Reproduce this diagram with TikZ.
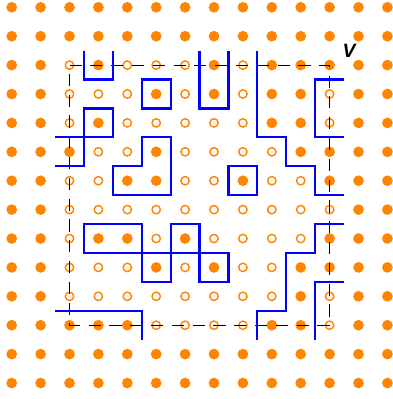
\documentclass[tikz,border=0pt]{standalone}
\usepackage{fontspec}
\setsansfont{Liberation Sans}
\definecolor{orng}{RGB}{255,133,0}
\definecolor{bl}{RGB}{0,0,255}
\tikzset{
  filldot/.style={circle, fill=orng, draw=none, inner sep=0pt, minimum size=0.37cm},
  opendot/.style={circle, draw=orng, line width=1.4pt, fill=none, inner sep=0pt, minimum size=0.29cm},
  boxline/.style={black, line width=1pt, dash pattern=on 0.42cm off 0.3cm},
  contour/.style={bl, line width=2.2pt},
  vlabel/.style={font=\sffamily\bfseries\itshape\fontsize{19}{22}\selectfont, inner sep=0pt}
}
\begin{document}
\begin{tikzpicture}[x=1cm,y=1cm]
\useasboundingbox (-0.405,0.253) rectangle (13.16,-13.553);
% open sites inside the box
\foreach \c/\r in {2/2,4/2,5/2,6/2,8/2,
  2/3,3/3,4/3,6/3,8/3,11/3,
  2/4,4/4,5/4,6/4,7/4,8/4,11/4,
  3/5,4/5,6/5,7/5,8/5,9/5,
  2/6,3/6,6/6,7/6,9/6,10/6,
  2/7,3/7,4/7,5/7,6/7,7/7,8/7,9/7,10/7,11/7,
  2/8,5/8,7/8,8/8,9/8,10/8,
  2/9,3/9,4/9,6/9,8/9,9/9,
  2/10,3/10,4/10,5/10,6/10,7/10,8/10,9/10,11/10,
  5/11,6/11,7/11,8/11,11/11}
  {\expandafter\gdef\csname op\c-\r\endcsname{}}
\foreach \r in {0,...,13}{
  \foreach \c in {0,...,13}{
    \ifcsname op\c-\r\endcsname
      \node[opendot] (d\c-\r) at (\c,-\r) {};
    \else
      \node[filldot] (d\c-\r) at (\c,-\r) {};
    \fi
  }
}
% dashed box
\draw[boxline] (d2-2.center) -- (d11-2.center) -- (d11-11.center) -- (d2-11.center) -- cycle;
% contours
\draw[contour] (2.5,-1.5) -- (2.5,-2.5) -- (3.5,-2.5) -- (3.5,-1.5);
\draw[contour] (4.5,-2.5) rectangle (5.5,-3.5);
\draw[contour] (1.5,-4.5) -- (3.5,-4.5) -- (3.5,-3.5) -- (2.5,-3.5) -- (2.5,-5.5) -- (1.5,-5.5);
\draw[contour] (3.5,-5.5) -- (4.5,-5.5) -- (4.5,-4.5) -- (5.5,-4.5) -- (5.5,-6.5) -- (3.5,-6.5) -- cycle;
\draw[contour] (6.5,-1.5) -- (6.5,-3.5) -- (7.5,-3.5) -- (7.5,-1.5);
\draw[contour] (8.5,-1.5) -- (8.5,-4.5) -- (9.5,-4.5) -- (9.5,-5.5) -- (10.5,-5.5) -- (10.5,-6.5) -- (11.5,-6.5);
\draw[contour] (11.5,-2.5) -- (10.5,-2.5) -- (10.5,-4.5) -- (11.5,-4.5);
\draw[contour] (7.5,-5.5) rectangle (8.5,-6.5);
\draw[contour] (2.5,-7.5) rectangle (4.5,-8.5);
\draw[contour] (4.5,-8.5) rectangle (5.5,-9.5);
\draw[contour] (5.5,-7.5) rectangle (6.5,-8.5);
\draw[contour] (6.5,-8.5) rectangle (7.5,-9.5);
\draw[contour] (1.5,-10.5) -- (4.5,-10.5) -- (4.5,-11.5);
\draw[contour] (8.5,-11.5) -- (8.5,-10.5) -- (9.5,-10.5) -- (9.5,-8.5) -- (10.5,-8.5) -- (10.5,-7.5) -- (11.5,-7.5);
\draw[contour] (10.5,-11.5) -- (10.5,-9.5) -- (11.5,-9.5);
% label
\node[vlabel] (V) at (11.67,-1.49) {V};
\end{tikzpicture}
\end{document}
